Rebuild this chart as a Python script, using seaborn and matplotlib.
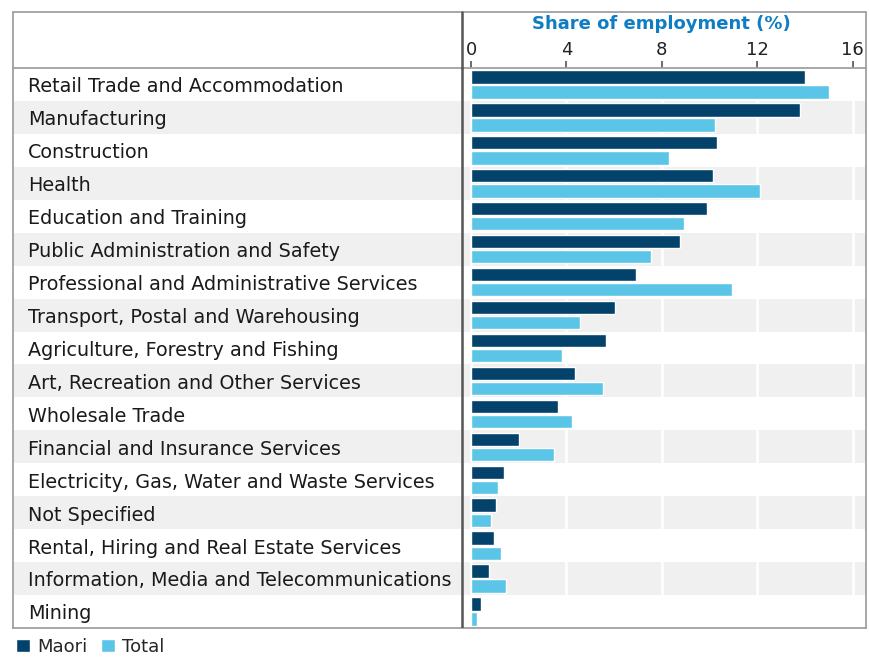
import numpy as np
import pandas as pd
import matplotlib.pyplot as plt
from matplotlib.lines import Line2D
import seaborn as sns

# ── Data (share of employment, %) ─────────────────────────────
industries = [
    "Retail Trade and Accommodation",
    "Manufacturing",
    "Construction",
    "Health",
    "Education and Training",
    "Public Administration and Safety",
    "Professional and Administrative Services",
    "Transport, Postal and Warehousing",
    "Agriculture, Forestry and Fishing",
    "Art, Recreation and Other Services",
    "Wholesale Trade",
    "Financial and Insurance Services",
    "Electricity, Gas, Water and Waste Services",
    "Not Specified",
    "Rental, Hiring and Real Estate Services",
    "Information, Media and Telecommunications",
    "Mining",
]
maori = [14.0, 13.8, 10.3, 10.15, 9.9, 8.75, 6.9, 6.05, 5.65, 4.35, 3.65,
         2.0, 1.37, 1.03, 0.95, 0.75, 0.43]
total = [15.0, 10.25, 8.3, 12.1, 8.95, 7.55, 10.95, 4.55, 3.8, 5.55, 4.25,
         3.5, 1.13, 0.82, 1.25, 1.45, 0.25]
xticks = [0, 4, 8, 12, 16]

df = pd.DataFrame({
    "Industry": industries * 2,
    "Share": maori + total,
    "Group": ["Maori"] * len(maori) + ["Total"] * len(total),
})

sns.set_theme(style="white")
plt.rcParams['font.family'] = ['DejaVu Sans']

# ── Layout in pixels ──────────────────────────────────────────
W, H = 869, 657
fig = plt.figure(figsize=(W / 100, H / 100), dpi=100)

def fx(px):
    return px / W

def fy(py):
    return 1 - py / H

box_l, box_r, box_t, box_b = 13, 866, 12, 628
head_b = 68
div_x = 462
zero_x = 471
px_per_unit = 23.85

ax = fig.add_axes([fx(box_l), fy(box_b), (box_r - box_l) / W, (box_b - head_b) / H])

n = len(industries)
for i in range(1, n, 2):
    ax.axhspan(i - 0.5, i + 0.5, color="#f0f0f0", zorder=0, lw=0)

sns.barplot(data=df, y="Industry", x="Share", hue="Group", orient="h",
            palette={"Maori": "#03426a", "Total": "#5bc5e8"},
            saturation=1, width=0.92, gap=0.12, ax=ax, zorder=2)

handles, labels = ax.get_legend_handles_labels()
if ax.get_legend() is not None:
    ax.get_legend().remove()

x_left = (box_l - zero_x) / px_per_unit
x_right = (box_r - zero_x) / px_per_unit
ax.set_xlim(x_left, x_right)
ax.set_ylim(n - 0.5, -0.5)
ax.set_xlabel("")
ax.set_ylabel("")
ax.set_yticks([])
ax.set_xticks(xticks)
ax.set_xticklabels([str(t) for t in xticks])
ax.xaxis.tick_top()
ax.tick_params(axis="x", direction="out", length=5, width=1.1, color="#444444",
               labelsize=13, labelcolor="#222222", pad=1.5)
ax.grid(axis="x", color="white", lw=1.8, zorder=1)
ax.set_axisbelow(True)

for s in ax.spines.values():
    s.set_color("#a0a0a0")
    s.set_linewidth(1.3)
    s.set_visible(True)

# divider between labels and bars
ax.axvline((div_x - zero_x) / px_per_unit, color="#555555", lw=1.8, zorder=3)

# category labels
label_x = (28 - zero_x) / px_per_unit
for i, name in enumerate(industries):
    ax.text(label_x, i + 0.24, name, ha="left", va="baseline", fontsize=13.8, color="#1a1a1a")

# header box
fig.add_artist(Line2D([fx(box_l), fx(box_r)], [fy(box_t), fy(box_t)], color="#a0a0a0", lw=1.3))
fig.add_artist(Line2D([fx(box_l), fx(box_l)], [fy(box_t), fy(head_b)], color="#a0a0a0", lw=1.3))
fig.add_artist(Line2D([fx(box_r), fx(box_r)], [fy(box_t), fy(head_b)], color="#a0a0a0", lw=1.3))
fig.add_artist(Line2D([fx(div_x), fx(div_x)], [fy(box_t), fy(head_b)], color="#555555", lw=1.8))

fig.text(fx(661), fy(24), "Share of employment (%)", ha="center", va="center",
         fontsize=13, fontweight="bold", color="#0f7dc2")

fig.legend(handles, labels, loc="center left", bbox_to_anchor=(fx(16), fy(647)),
           ncol=2, frameon=False, fontsize=13, handlelength=0.75, handleheight=0.75,
           handletextpad=0.4, columnspacing=0.8, borderpad=0, borderaxespad=0)

fig.savefig("out.png", dpi=100)
